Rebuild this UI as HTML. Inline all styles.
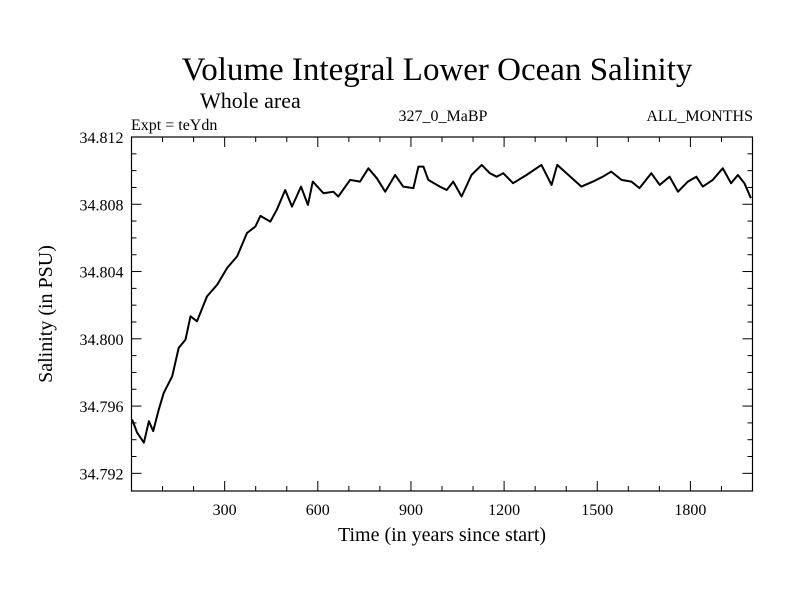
<!DOCTYPE html>
<html><head><meta charset="utf-8"><style>
html,body{margin:0;padding:0;background:#fff;}
svg{display:block;}
text{font-family:"Liberation Serif",serif;fill:#000;}
</style></head><body>
<svg id="chart" width="800" height="600" viewBox="0 0 800 600">
<rect width="800" height="600" fill="#fff"/>
<text x="437" y="80" font-size="33" text-anchor="middle">Volume Integral Lower Ocean Salinity</text>
<text x="200" y="108" font-size="22">Whole area</text>
<text x="131" y="130" font-size="16">Expt = teYdn</text>
<text x="443" y="121" font-size="16" text-anchor="middle">327_0_MaBP</text>
<text x="753" y="121" font-size="16" text-anchor="end">ALL_MONTHS</text>
<text transform="translate(52,314) rotate(-90)" font-size="20" text-anchor="middle">Salinity (in PSU)</text>
<text x="442" y="541" font-size="20" text-anchor="middle">Time (in years since start)</text>
<g id="axes"></g>
<g id="series"></g>
</svg>
<script>
const years=[2,18,40,56,70,88,104,131,152,174,190,211,243,276,308,340,372,399,415,447,468,495,517,546,568,584,618,650,666,704,736,763,790,817,849,875,908,924,940,956,993,1015,1036,1063,1095,1128,1154,1176,1197,1229,1272,1320,1353,1371,1401,1449,1486,1518,1545,1578,1610,1636,1674,1701,1733,1760,1792,1819,1840,1872,1904,1931,1953,1974,1995];
const salinity=[34.79520,34.79442,34.79382,34.79510,34.79451,34.79580,34.79679,34.79777,34.79946,34.79995,34.80134,34.80104,34.80252,34.80322,34.80421,34.80490,34.80629,34.80668,34.80731,34.80697,34.80767,34.80885,34.80786,34.80905,34.80796,34.80935,34.80866,34.80875,34.80846,34.80945,34.80935,34.81014,34.80955,34.80875,34.80974,34.80905,34.80896,34.81024,34.81024,34.80945,34.80905,34.80885,34.80935,34.80846,34.80974,34.81034,34.80985,34.80964,34.80985,34.80925,34.80974,34.81034,34.80915,34.81034,34.80985,34.80905,34.80935,34.80964,34.80994,34.80945,34.80935,34.80896,34.80985,34.80915,34.80964,34.80875,34.80935,34.80964,34.80905,34.80945,34.81014,34.80925,34.80974,34.80925,34.80836];
const xTicks=[300,600,900,1200,1500,1800];
const yTicks=[34.792,34.796,34.800,34.804,34.808,34.812];
const yTickLabels=["34.792","34.796","34.800","34.804","34.808","34.812"];

const L=131.5,R=752.5,T=137,B=491;
const X0=0,X1=2000,Y0=34.79095,Y1=34.812;
const xs=v=>L+(v-X0)/(X1-X0)*(R-L);
const ys=v=>B-(v-Y0)/(Y1-Y0)*(B-T);
const NS="http://www.w3.org/2000/svg";
const axes=document.getElementById('axes');
function mk(tag,attrs,parent){const e=document.createElementNS(NS,tag);for(const k in attrs)e.setAttribute(k,attrs[k]);parent.appendChild(e);return e;}
const frame=mk('rect',{x:L,y:T,width:R-L,height:B-T,fill:'none',stroke:'#000','stroke-width':1.2},axes);


// x ticks (major every 300, minor every 100)
for(let v=100;v<X1;v+=100){
  const major=v%300===0, len=major?10:5, x=xs(v);
  const t1=mk('line',{x1:x,x2:x,y1:B,y2:B-len,stroke:'#000','stroke-width':1},axes);
  
  
  const t2=mk('line',{x1:x,x2:x,y1:T,y2:T+len,stroke:'#000','stroke-width':1},axes);
  
  
}
xTicks.forEach(v=>{
  const t=mk('text',{x:xs(v),y:B+24,'font-size':16,'text-anchor':'middle'},axes);
  t.textContent=String(v);
  
  
});
// y ticks (major every 0.004, minor 0.001)
for(let i=0;i<=20;i++){
  const v=34.792+i*0.001; if(v>Y1+1e-9)break;
  const major=i%4===0, len=major?10:5, y=ys(v);
  const t1=mk('line',{x1:L,x2:L+len,y1:y,y2:y,stroke:'#000','stroke-width':1},axes);
  
  
  const t2=mk('line',{x1:R,x2:R-len,y1:y,y2:y,stroke:'#000','stroke-width':1},axes);
  
  
}
yTicks.forEach((v,i)=>{
  const t=mk('text',{x:L-8,y:ys(v)+6,'font-size':16,'text-anchor':'end'},axes);
  t.textContent=yTickLabels[i];
  
  
});
const d=years.map((yr,i)=>(i?'L':'M')+xs(yr).toFixed(1)+' '+ys(salinity[i]).toFixed(1)).join(' ');
const line=mk('path',{d:d,fill:'none',stroke:'#000','stroke-width':2,'stroke-linejoin':'round'},document.getElementById('series'));


</script>
</body></html>
